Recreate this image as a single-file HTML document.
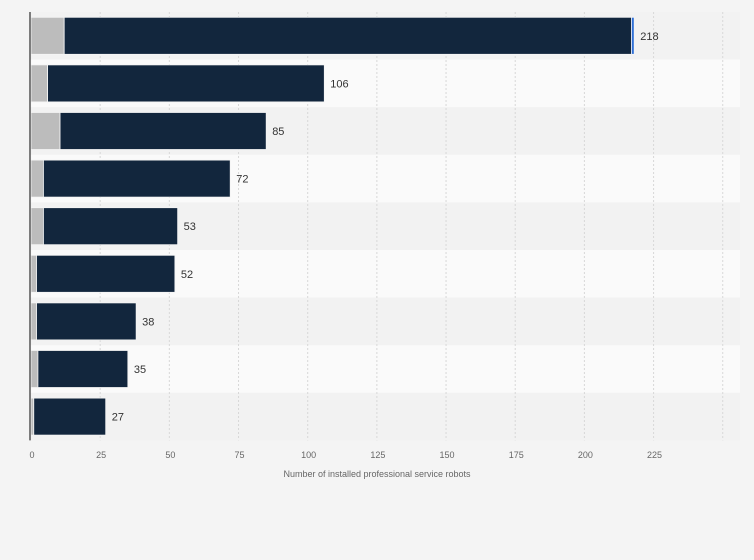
<!DOCTYPE html>
<html><head><meta charset="utf-8"><style>
html,body{margin:0;padding:0;background:#f4f4f4;}
svg{display:block;font-family:"Liberation Sans",sans-serif;}
</style></head><body>
<svg id="chart" width="754" height="560" xmlns="http://www.w3.org/2000/svg"></svg>
<script>
const grayValues=[12,6,10.5,4.5,4.5,2,2,2.5,1];
const navyValues=[205,100,74.5,67.5,48.5,50,36,32.5,26];
const blueValues=[1,0,0,0,0,0,0,0,0];
const totalLabels=["218","106","85","72","53","52","38","35","27"];
const tickValues=[0,25,50,75,100,125,150,175,200,225];
const SVGNS="http://www.w3.org/2000/svg";
const chartSvg=document.getElementById('chart');
const x0=31, unit=2.767, plotTop=12, rowH=47.6, barH=37, plotRight=740;
const xs=v=>x0+v*unit;
function mk(tag,attrs){const e=document.createElementNS(SVGNS,tag);for(const k in attrs)e.setAttribute(k,attrs[k]);chartSvg.appendChild(e);return e;}
for(let i=0;i<grayValues.length;i++){
  const b=mk('rect',{x:30,y:plotTop+i*rowH,width:plotRight-30,height:rowH,fill:i%2?'#fafafa':'#f2f2f2'});
  
  
}
tickValues.forEach(t=>{
  if(t>0){const g=mk('line',{x1:xs(t),x2:xs(t),y1:plotTop,y2:plotTop+rowH*9,stroke:'#d8d8d8','stroke-dasharray':'2,2'});
  
  }
  const tx=mk('text',{x:xs(t)+1,y:458,'font-size':9,fill:'#666','text-anchor':'middle'});
  tx.textContent=t;
  
  
});
const g2=mk('line',{x1:xs(250),x2:xs(250),y1:plotTop,y2:plotTop+rowH*9,stroke:'#d8d8d8','stroke-dasharray':'2,2'});


for(let i=0;i<grayValues.length;i++){
  const y=plotTop+i*rowH+(rowH-barH)/2;
  let acc=0;
  [[grayValues[i],'#bcbcbc','bar-gray'],[navyValues[i],'#12263d','bar-navy'],[blueValues[i],'#2f6fd6','bar-blue']].forEach(([v,c,n])=>{
    if(v<=0)return;
    const r=mk('rect',{x:xs(acc),y:y,width:v*unit,height:barH,fill:c,stroke:'#f4f4f4','stroke-width':0.8});
    
    
    acc+=v;
  });
  const l=mk('text',{x:xs(acc)+6,y:y+barH/2+4,'font-size':11,fill:'#333'});
  l.textContent=totalLabels[i];
  
  
}
const ax=mk('line',{x1:30,x2:30,y1:plotTop,y2:plotTop+rowH*9,stroke:'#555','stroke-width':1.5});


const tt=mk('text',{x:377,y:477,'font-size':9,fill:'#666','text-anchor':'middle'});
tt.textContent='Number of installed professional service robots';


</script>
</body></html>
